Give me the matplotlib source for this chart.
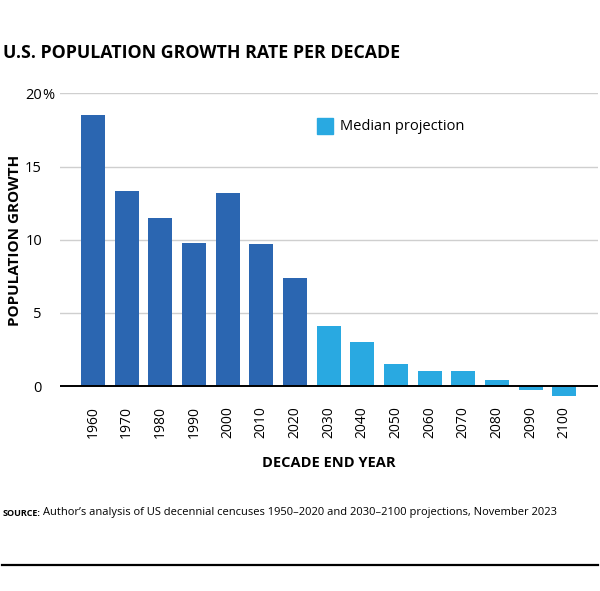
import numpy as np
import matplotlib
matplotlib.use("Agg")
import matplotlib.pyplot as plt
from matplotlib.patches import Rectangle
from matplotlib.lines import Line2D

plt.rcParams["font.family"] = ["Open Sans", "DejaVu Sans"]

# data
years = ["1960", "1970", "1980", "1990", "2000", "2010", "2020",
         "2030", "2040", "2050", "2060", "2070", "2080", "2090", "2100"]
growth = [18.5, 13.3, 11.5, 9.8, 13.2, 9.7, 7.4,
          4.1, 3.0, 1.5, 1.0, 1.0, 0.4, -0.3, -0.7]
projected = [False] * 7 + [True] * 8
y_ticks = [0, 5, 10, 15, 20]

dark_blue = "#2B66B1"
light_blue = "#29A9E1"

fig = plt.figure(figsize=(6, 5.91), dpi=100)
ax = fig.add_axes([0.1, 0.322, 0.8967, 0.52])

x = np.arange(len(years))
colors = [light_blue if p else dark_blue for p in projected]
ax.bar(x, growth, width=0.72, color=colors, zorder=3)

ax.set_xlim(-0.98, len(years))
ax.set_ylim(-1, 20)
ax.set_yticks(y_ticks)
ax.set_yticklabels([str(t) for t in y_ticks], fontsize=10.5)
ax.set_xticks(x)
ax.set_xticklabels(years, rotation=90, fontsize=10)
ax.tick_params(axis="both", length=0)
ax.tick_params(axis="x", pad=4)
ax.tick_params(axis="y", pad=13)
for s in ax.spines.values():
    s.set_visible(False)
for t in y_ticks[1:]:
    ax.axhline(t, color="#cfcfcf", lw=1, zorder=1)
ax.axhline(0, color="black", lw=1.4, zorder=4)

# percent sign hanging after the top tick label
ax.annotate("%", xy=(0, 20), xycoords=("axes fraction", "data"),
            xytext=(-17.5, 0), textcoords="offset pixels",
            fontsize=10.5, ha="left", va="center_baseline")

fig.text(15 / 600, 1 - 240 / 591, "POPULATION GROWTH", fontsize=11,
         fontweight="bold", rotation=90, ha="center", va="center")
fig.text(329 / 600, 1 - 463 / 591, "DECADE END YEAR", fontsize=10.5,
         fontweight="bold", ha="center", va="center")

# legend
fig.patches.append(Rectangle((317 / 600, 1 - 134 / 591), 16 / 600, 16 / 591,
                             transform=fig.transFigure, color=light_blue))
fig.text(340 / 600, 1 - 127 / 591, "Median projection", fontsize=10.5, va="center")

fig.text(3 / 600, 1 - 53 / 591, "U.S. POPULATION GROWTH RATE PER DECADE",
         fontsize=12.8, fontweight="bold", va="center")

fig.text(3 / 600, 1 - 513 / 591, "SOURCE:", fontsize=6.5, fontweight="bold", va="center")
fig.text(43 / 600, 1 - 513 / 591,
         "Author\u2019s analysis of US decennial cencuses 1950\u20132020 and 2030\u20132100 projections, November 2023",
         fontsize=8.0, va="center")

fig.lines.append(Line2D([2 / 600, 598 / 600], [1 - 565 / 591, 1 - 565 / 591],
                        transform=fig.transFigure, color="black", lw=1.6))

fig.savefig("out.png", dpi=100)
